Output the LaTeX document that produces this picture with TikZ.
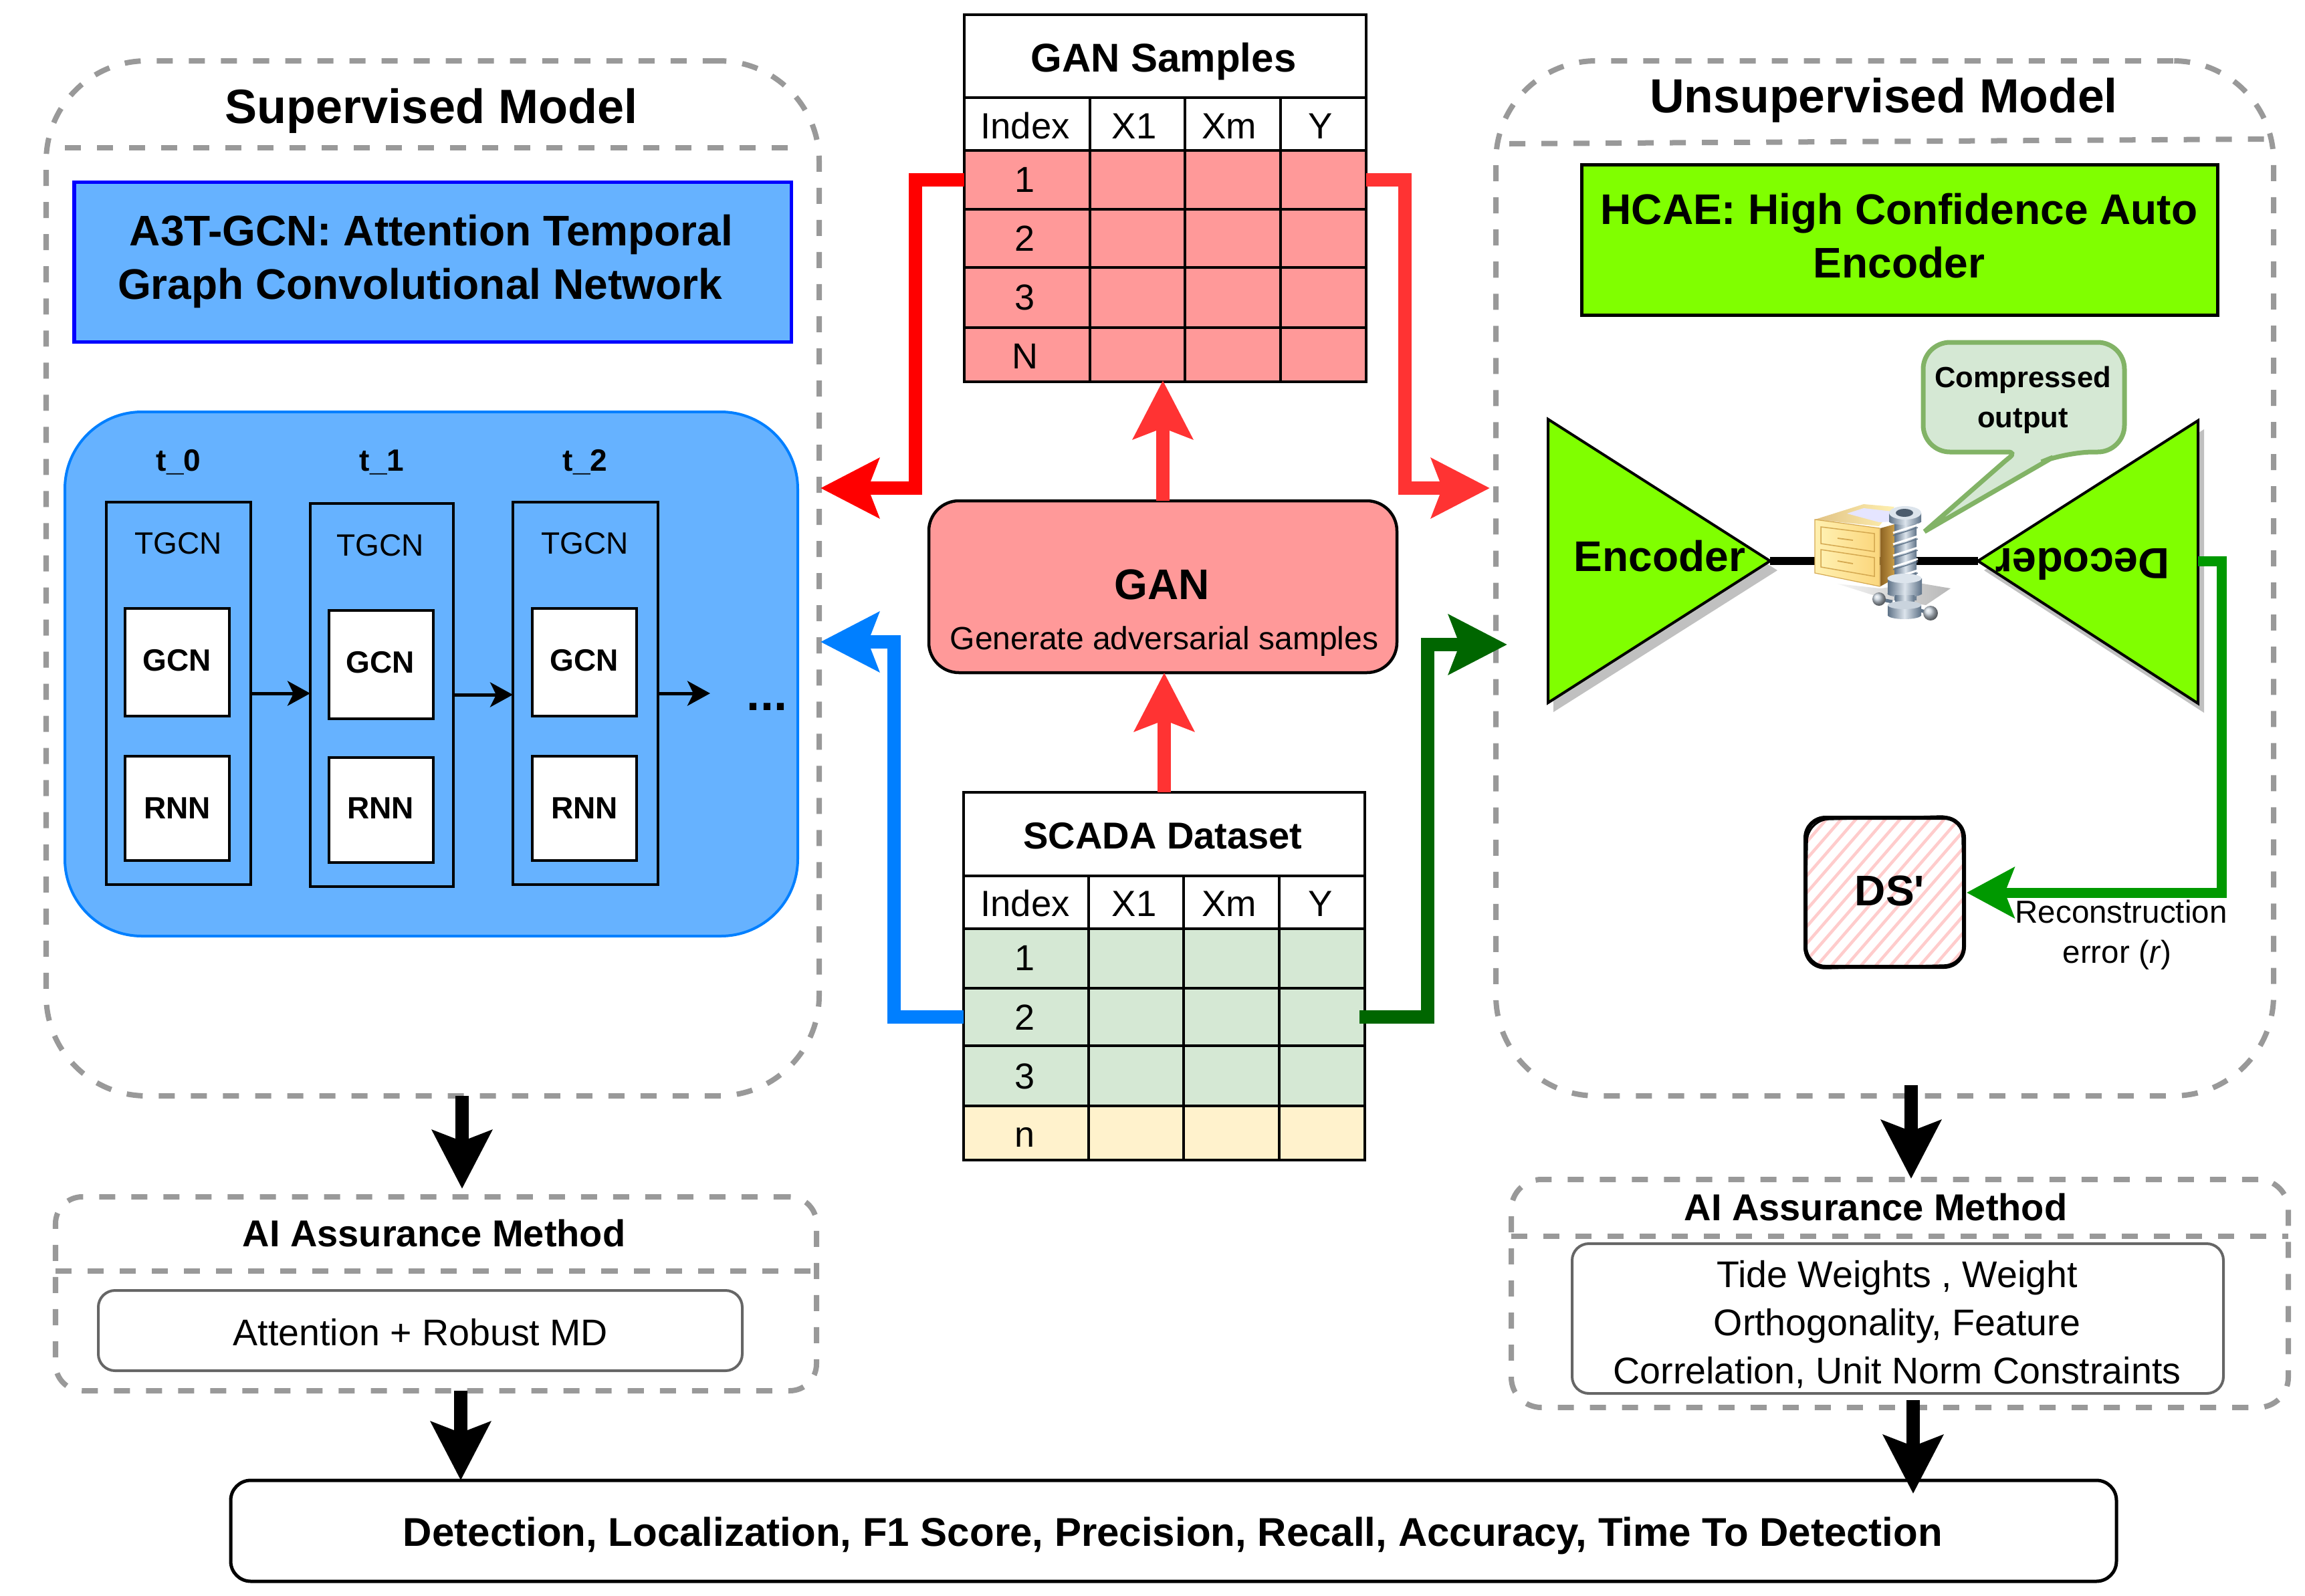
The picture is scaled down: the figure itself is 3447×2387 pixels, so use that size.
\documentclass[tikz,border=0pt]{standalone}
\usepackage{fontspec}
\setmainfont{Liberation Sans}
\usetikzlibrary{arrows.meta,calc}
\newcommand\fpx[1]{\fontsize{\fpeval{#1*0.28453}pt}{\fpeval{#1*0.28453*1.25}pt}\selectfont}
\newcommand\fpxl[2]{\fontsize{\fpeval{#1*0.28453}pt}{\fpeval{#2*0.28453}pt}\selectfont}
\newcommand\bx[6]{%
  \pgfmathsetmacro\bxw{abs(#4-#2)}\pgfmathsetmacro\bxh{abs(#5-#3)}%
  \pgfmathsetmacro\bxx{(#2+#4)/2}\pgfmathsetmacro\bxy{(#3+#5)/2}%
  \node[#6,minimum width=\bxw*0.01cm,minimum height=\bxh*0.01cm] (#1) at (\bxx,\bxy) {};}
\definecolor{dashgrey}{HTML}{999999}
\definecolor{panelblue}{HTML}{66B2FF}
\definecolor{azure}{HTML}{007FFF}
\definecolor{lime}{HTML}{80FF00}
\definecolor{pinkfill}{HTML}{FF9999}
\definecolor{redb}{HTML}{FF3333}
\definecolor{greenfill}{HTML}{D5E8D4}
\definecolor{greenedge}{HTML}{82B366}
\definecolor{yellowfill}{HTML}{FFF2CC}
\definecolor{darkgreen}{HTML}{006600}
\definecolor{midgreen}{HTML}{009900}
\definecolor{shadowgrey}{HTML}{C0C0C0}
\definecolor{hatchpink}{HTML}{FFCCCC}
\definecolor{steelA}{HTML}{5F7388}
\definecolor{steelB}{HTML}{DCE4EC}
\definecolor{cabA}{HTML}{FFF0B0}
\definecolor{cabB}{HTML}{FBD77E}
\definecolor{cabE}{HTML}{D4A850}
\definecolor{cabS}{HTML}{8E6424}
\tikzset{
  lab/.style={anchor=base,inner sep=0pt,font=\fpx{#1}},
  labb/.style={anchor=base,inner sep=0pt,font=\fpx{#1}\bfseries},
  boxbase/.style={rectangle,inner sep=0pt,outer sep=0pt},
  dashbox/.style={boxbase,draw=dashgrey,line width=.08cm,dash pattern=on .24cm off .24cm,rounded corners=#1},
  divider/.style={draw=dashgrey,line width=.08cm,dash pattern=on .24cm off .24cm},
  cell/.style={boxbase,draw=black,line width=.045cm,fill=#1},
  tbox/.style={boxbase,draw=black,line width=.045cm},
  wbox/.style={boxbase,draw=black,line width=.045cm,fill=white},
  softbox/.style={boxbase,draw=black!60,line width=.04cm,fill=white,rounded corners=.25cm},
  bigarrow/.style={line width=.2cm,-{Stealth[length=.87cm,width=.88cm,inset=.16cm]}},
  thin arrow/.style={line width=.05cm,-{Stealth[length=.34cm,width=.37cm,inset=.09cm]}},
  steel/.style={left color=steelA,right color=steelA,middle color=steelB,draw=none},
}
\begin{document}
\begin{tikzpicture}[x=0.01cm,y=-0.01cm]
\path[use as bounding box] (0,0) rectangle (3447,2387);

% ---------- outer dashed panels
\bx{sup}{69}{91}{1225}{1639}{dashbox=1.5cm}
\draw[divider] (97,221) -- (1178,221);
\bx{unsup}{2237}{91}{3400}{1639}{dashbox=1.5cm}
\draw[divider] (2257,215) -- (3390,208);
\node (supT) [labb=72] at (645,184) {Supervised Model};
\node (unsT) [labb=71.5] at (2817,168) {Unsupervised Model};

% ---------- A3T-GCN header
\bx{a3t}{111}{272}{1183}{511}{boxbase,draw=blue,line width=.05cm,fill=panelblue}
\node (a3tT) [inner sep=0pt,align=center,font=\fpxl{64}{80}\bfseries] at (645,391)
  {A3T-GCN: Attention Temporal\\Graph Convolutional Network\hspace*{.34cm}};

% ---------- TGCN panel
\bx{panel}{97}{616}{1193}{1400}{boxbase,draw=azure,line width=.04cm,fill=panelblue,rounded corners=1.15cm}
\bx{t0}{159}{751}{375}{1323}{tbox}
\bx{t1}{464}{753}{678}{1326}{tbox}
\bx{t2}{767}{751}{984}{1323}{tbox}
\bx{gcn0}{187}{910}{343}{1071}{wbox}
\bx{rnn0}{187}{1131}{343}{1287}{wbox}
\bx{gcn1}{492}{913}{648}{1075}{wbox}
\bx{rnn1}{492}{1133}{648}{1290}{wbox}
\bx{gcn2}{796}{910}{952}{1071}{wbox}
\bx{rnn2}{796}{1131}{952}{1287}{wbox}
\node (l0) [labb=46] at (267,704) {t\_0};
\node (l1) [labb=46] at (571,704) {t\_1};
\node (l2) [labb=46] at (875,704) {t\_2};
\node (tg0) [lab=46] at (267,828) {TGCN};
\node (tg1) [lab=46] at (569,831) {TGCN};
\node (tg2) [lab=46] at (875,828) {TGCN};
\foreach \n/\x/\yg/\yr in {0/265/1003/1224,1/569/1006/1224,2/874/1003/1224}{
  \node (gt\n) [labb=46] at (\x,\yg) {GCN};
  \node (rt\n) [labb=46] at (\x,\yr) {RNN};
}
\coordinate (more) at (1062,1037);
\node (dots) [labb=72] at (1147,1062) {...};
\draw[thin arrow] (t0.east |- 0,1037) -- (t1.west |- 0,1037);
\draw[thin arrow] (t1.east |- 0,1039) -- (t2.west |- 0,1039);
\draw[thin arrow] (t2.east |- more) -- (more);

% ---------- GAN samples table
\bx{gtitle}{1442}{22}{2043}{146}{cell=white}
\foreach \c/\xa/\xb in {1/1442/1630,2/1630/1772,3/1772/1915,4/1915/2043}{
  \bx{gh\c}{\xa}{146}{\xb}{225}{cell=white}
  \foreach \r/\ya/\yb in {1/225/313,2/313/400,3/400/490,4/490/571}{
    \bx{g\r\c}{\xa}{\ya}{\xb}{\yb}{cell=pinkfill}
  }
}
\node (gtT) [labb=60] at (1750,107) [xshift=-.1cm] {GAN Samples};
\foreach \x/\t in {1533/Index,1696/X1,1838/Xm,1975/Y}{\node (gh\t) [lab=54.5] at (\x,207) {\t};}
\foreach \y/\t in {287/1,375/2,463/3,551/N}{\node (gr\t) [lab=54] at (1533,\y) {\t};}

% ---------- GAN box
\bx{gan}{1389}{749}{2089}{1006}{boxbase,draw=black,line width=.045cm,fill=pinkfill,rounded corners=.45cm}
\node (ganT) [labb=64] at (1738,896) {GAN};
\node (ganS) [lab=48] at (1741,971) {Generate adversarial samples};

% ---------- SCADA table
\bx{stitle}{1441}{1185}{2041}{1310}{cell=white}
\foreach \c/\xa/\xb in {1/1441/1628,2/1628/1770,3/1770/1913,4/1913/2041}{
  \bx{sh\c}{\xa}{1310}{\xb}{1389}{cell=white}
  \foreach \r/\ya/\yb/\f in {1/1389/1478/greenfill,2/1478/1564/greenfill,3/1564/1654/greenfill,4/1654/1735/yellowfill}{
    \bx{s\r\c}{\xa}{\ya}{\xb}{\yb}{cell=\f}
  }
}
\node (stT) [labb=56] at (1739,1269) {SCADA Dataset};
\foreach \x/\t in {1533/Index,1696/X1,1838/Xm,1975/Y}{\node (sh\t) [lab=54.5] at (\x,1370) {\t};}
\foreach \y/\t in {1451/1,1540/2,1628/3,1715/n}{\node (sr\t) [lab=54] at (1533,\y) {\t};}

% ---------- coloured arrows
\coordinate (tipSupR) at (1227,730);
\coordinate (tipUnsR) at (2228,730);
\coordinate (tipSupB) at (1227,960);
\coordinate (tipUnsG) at (2254,964);
\coordinate (ganUp) at (1739,569);
\coordinate (scadaUp) at (1741,1006);
\draw[bigarrow,draw=red,color=red] (g11.west) -- ++(-73,0) |- (tipSupR);
\draw[bigarrow,draw=redb,color=redb] (g14.east) -- ++(58,0) |- (tipUnsR);
\draw[bigarrow,draw=redb,color=redb] (ganUp |- gan.north) -- (ganUp);
\draw[bigarrow,draw=redb,color=redb] (scadaUp |- stitle.north) -- (scadaUp);
\draw[bigarrow,draw=azure,color=azure] (s21.west) -- ++(-104,0) |- (tipSupB);
\draw[bigarrow,draw=darkgreen,color=darkgreen] ([xshift=-.08cm]s24.east) -- ++(102,0) |- (tipUnsG);

% ---------- HCAE header
\bx{hcae}{2365}{246}{3316}{471}{boxbase,draw=black,line width=.05cm,fill=lime}
\node (hcaeT) [inner sep=0pt,align=center,font=\fpxl{64}{80}\bfseries] at (2840,353)
  {HCAE: High Confidence Auto\\Encoder};

% ---------- auto-encoder
\coordinate (encTip) at (2647,839);
\coordinate (decTip) at (2958,839);
\coordinate (decTail) at (3287,839);
\fill[shadowgrey] (2323,641) -- (2658,853) -- (2323,1065) -- cycle;
\fill[shadowgrey] (3296,642) -- (2967,853) -- (3296,1066) -- cycle;
\draw[line width=.04cm,fill=lime] (2315,627) -- (encTip) -- (2315,1051) -- cycle;
\draw[line width=.04cm,fill=lime] (3287,629) -- (decTip) -- (3287,1052) -- cycle;
\draw[line width=.125cm] (encTip) -- (decTip);
\node (encT) [labb=64] at (2482,854) {Encoder};
\node (decT) [labb=65] at (3114,820) [rotate=180] {Decoder};

% ---------- compressor icon
\shade[left color=black!4,right color=black!28,draw=none] (2747,873) -- (2812,880) -- (2870,872) -- (2917,880) -- (2880,905) -- (2823,897) -- cycle;
\path[left color=cabE!70!white,right color=cabA] (2714,777) -- (2787,754) -- (2833,758) -- (2810,787) -- cycle;
\path[left color=cabS,right color=cabE] (2812,790) -- (2837,783) -- (2837,863) -- (2812,877) -- cycle;
\path[draw=cabE,line width=.012cm,left color=cabA,right color=cabB] (2714,777) -- (2811,790) -- (2811,877) -- (2714,857) -- cycle;
\foreach \a/\b/\c/\d in {788/798/825/813,822/834/862/848}{
  \path[draw=cabE,line width=.015cm,left color=cabA,right color=cabB] (2723,\a) -- (2803,\b) -- (2803,\c) -- (2723,\d) -- cycle;
}
\draw[cabE,line width=.018cm] (2748,805) -- (2771,808);
\draw[cabE,line width=.018cm] (2748,839) -- (2771,843);
\fill[blue!10!white] (2762,768) -- (2787,760) -- (2830,765) -- (2830,780) -- (2810,781) -- cycle;
\shade[steel] (2833,775) rectangle (2866,897);
\foreach \y in {790,807,824,841,858}{
  \draw[white,line width=.03cm] (2831,\y+7) -- (2868,\y-5);
  \draw[steelA,line width=.014cm] (2831,\y+11) -- (2868,\y-1);
}
\shade[steel] (2825,767) rectangle (2873,780);
\shade[steel] (2849,780) ellipse[x radius=24,y radius=5];
\fill[steelB] (2849,767) ellipse[x radius=24,y radius=10];
\fill[steelA!80!black] (2848,767) ellipse[x radius=13,y radius=6];
\shade[steel] (2823,865) rectangle (2874,888);
\shade[steel] (2848,888) ellipse[x radius=25.5,y radius=5];
\fill[steelB] (2848,865) ellipse[x radius=25.5,y radius=7];
\shade[steel] (2834,890) rectangle (2863,905);
\draw[steelA,line width=.05cm] (2810,896) -- (2830,900);
\draw[steelA,line width=.05cm] (2868,912) -- (2887,917);
\shade[ball color=steelB!80!steelA] (2810,896) circle[radius=10];
\shade[ball color=steelB!80!steelA] (2887,917) circle[radius=11];
\shade[steel] (2823,905) rectangle (2873,920);
\shade[steel] (2848,920) ellipse[x radius=25,y radius=6];
\fill[steelB!85!steelA] (2848,905) ellipse[x radius=25,y radius=6];

% ---------- speech bubble
\coordinate (bubTip) at (2878,795);
\draw[draw=greenedge,fill=greenfill,line width=.07cm,rounded corners=.4cm,line join=miter]
  (3025,512) -- (3177,512) -- (3177,676) -- (3090,676) [sharp corners] -- (3070,684) -- (bubTip) -- (2998,690) [rounded corners=.12cm] -- (3015,676) [rounded corners=.4cm] -- (2876,676) -- (2876,512) -- cycle;
\node (bubT) [inner sep=0pt,align=center,font=\fpxl{43.5}{60}\bfseries] at (3025,598) {Compressed\\output};

% ---------- DS' box
\begin{scope}
  \clip[rounded corners=.3cm] (2700,1223) rectangle (2937,1446);
  \foreach \i in {-10,...,22}{
    \draw[hatchpink,line width=.045cm] (2690+\i*22,1450) -- ++(200,-230);
  }
\end{scope}
\bx{ds}{2700}{1223}{2937}{1446}{boxbase,draw=black,line width=.06cm,rounded corners=.3cm}
\draw[line width=.03cm,rounded corners=.32cm] (2703,1226) -- (2934,1220) -- (2939,1443) -- (2698,1449) -- cycle;
\node (dsT) [labb=64] at (2826,1354) {DS\XeTeXglyph\XeTeXcharglyph"27 };
\coordinate (dsTip) at (2941,1335);
\draw[draw=midgreen,color=midgreen,line width=.15cm,-{Stealth[length=.71cm,width=.75cm,inset=.14cm]}] (decTail) -- ++(35,0) |- (dsTip);
\node (recT) [inner sep=0pt,align=center,font=\fpxl{47.5}{60}] at (3172,1398) {Reconstruction\\error (\textit{r})\hspace*{.12cm}};

% ---------- AI assurance, left
\bx{ai1}{83}{1790}{1221}{2080}{dashbox=.4cm}
\draw[divider] (83,1901) -- (1221,1901);
\node (ai1T) [labb=56] at (649,1864) {AI Assurance Method};
\bx{ai1b}{147}{1930}{1110}{2050}{softbox}
\node (ai1t) [lab=55.5] at (629,2012) {Attention + Robust MD};

% ---------- AI assurance, right
\bx{ai2}{2260}{1764}{3422}{2105}{dashbox=.45cm}
\draw[divider] (2260,1849) -- (3422,1849);
\node (ai2T) [labb=56] at (2805,1825) {AI Assurance Method};
\bx{ai2b}{2351}{1860}{3325}{2084}{softbox}
\node (ai2t) [inner sep=0pt,align=center,font=\fpxl{55.5}{72}] at (2837,1981)
  {Tide Weights , Weight\\Orthogonality, Feature\\Correlation, Unit Norm Constraints};

% ---------- metrics
\bx{res}{345}{2214}{3165}{2365}{boxbase,draw=black,line width=.05cm,rounded corners=.3cm}
\node (resT) [labb=60] at (1754,2312) {Detection, Localization, F1 Score, Precision, Recall, Accuracy, Time To Detection};

% ---------- black arrows
\coordinate (a1) at (691,1778);
\coordinate (a2) at (689,2214);
\coordinate (a3) at (2858,1763);
\coordinate (a4) at (2861,2234);
\draw[bigarrow] (a1 |- sup.south) -- (a1);
\draw[bigarrow] (a2 |- ai1.south) -- (a2);
\draw[bigarrow] (a3 |- 0,1623) -- (a3);
\draw[bigarrow] (a4 |- 0,2094) -- (a4);
\end{tikzpicture}
\end{document}
